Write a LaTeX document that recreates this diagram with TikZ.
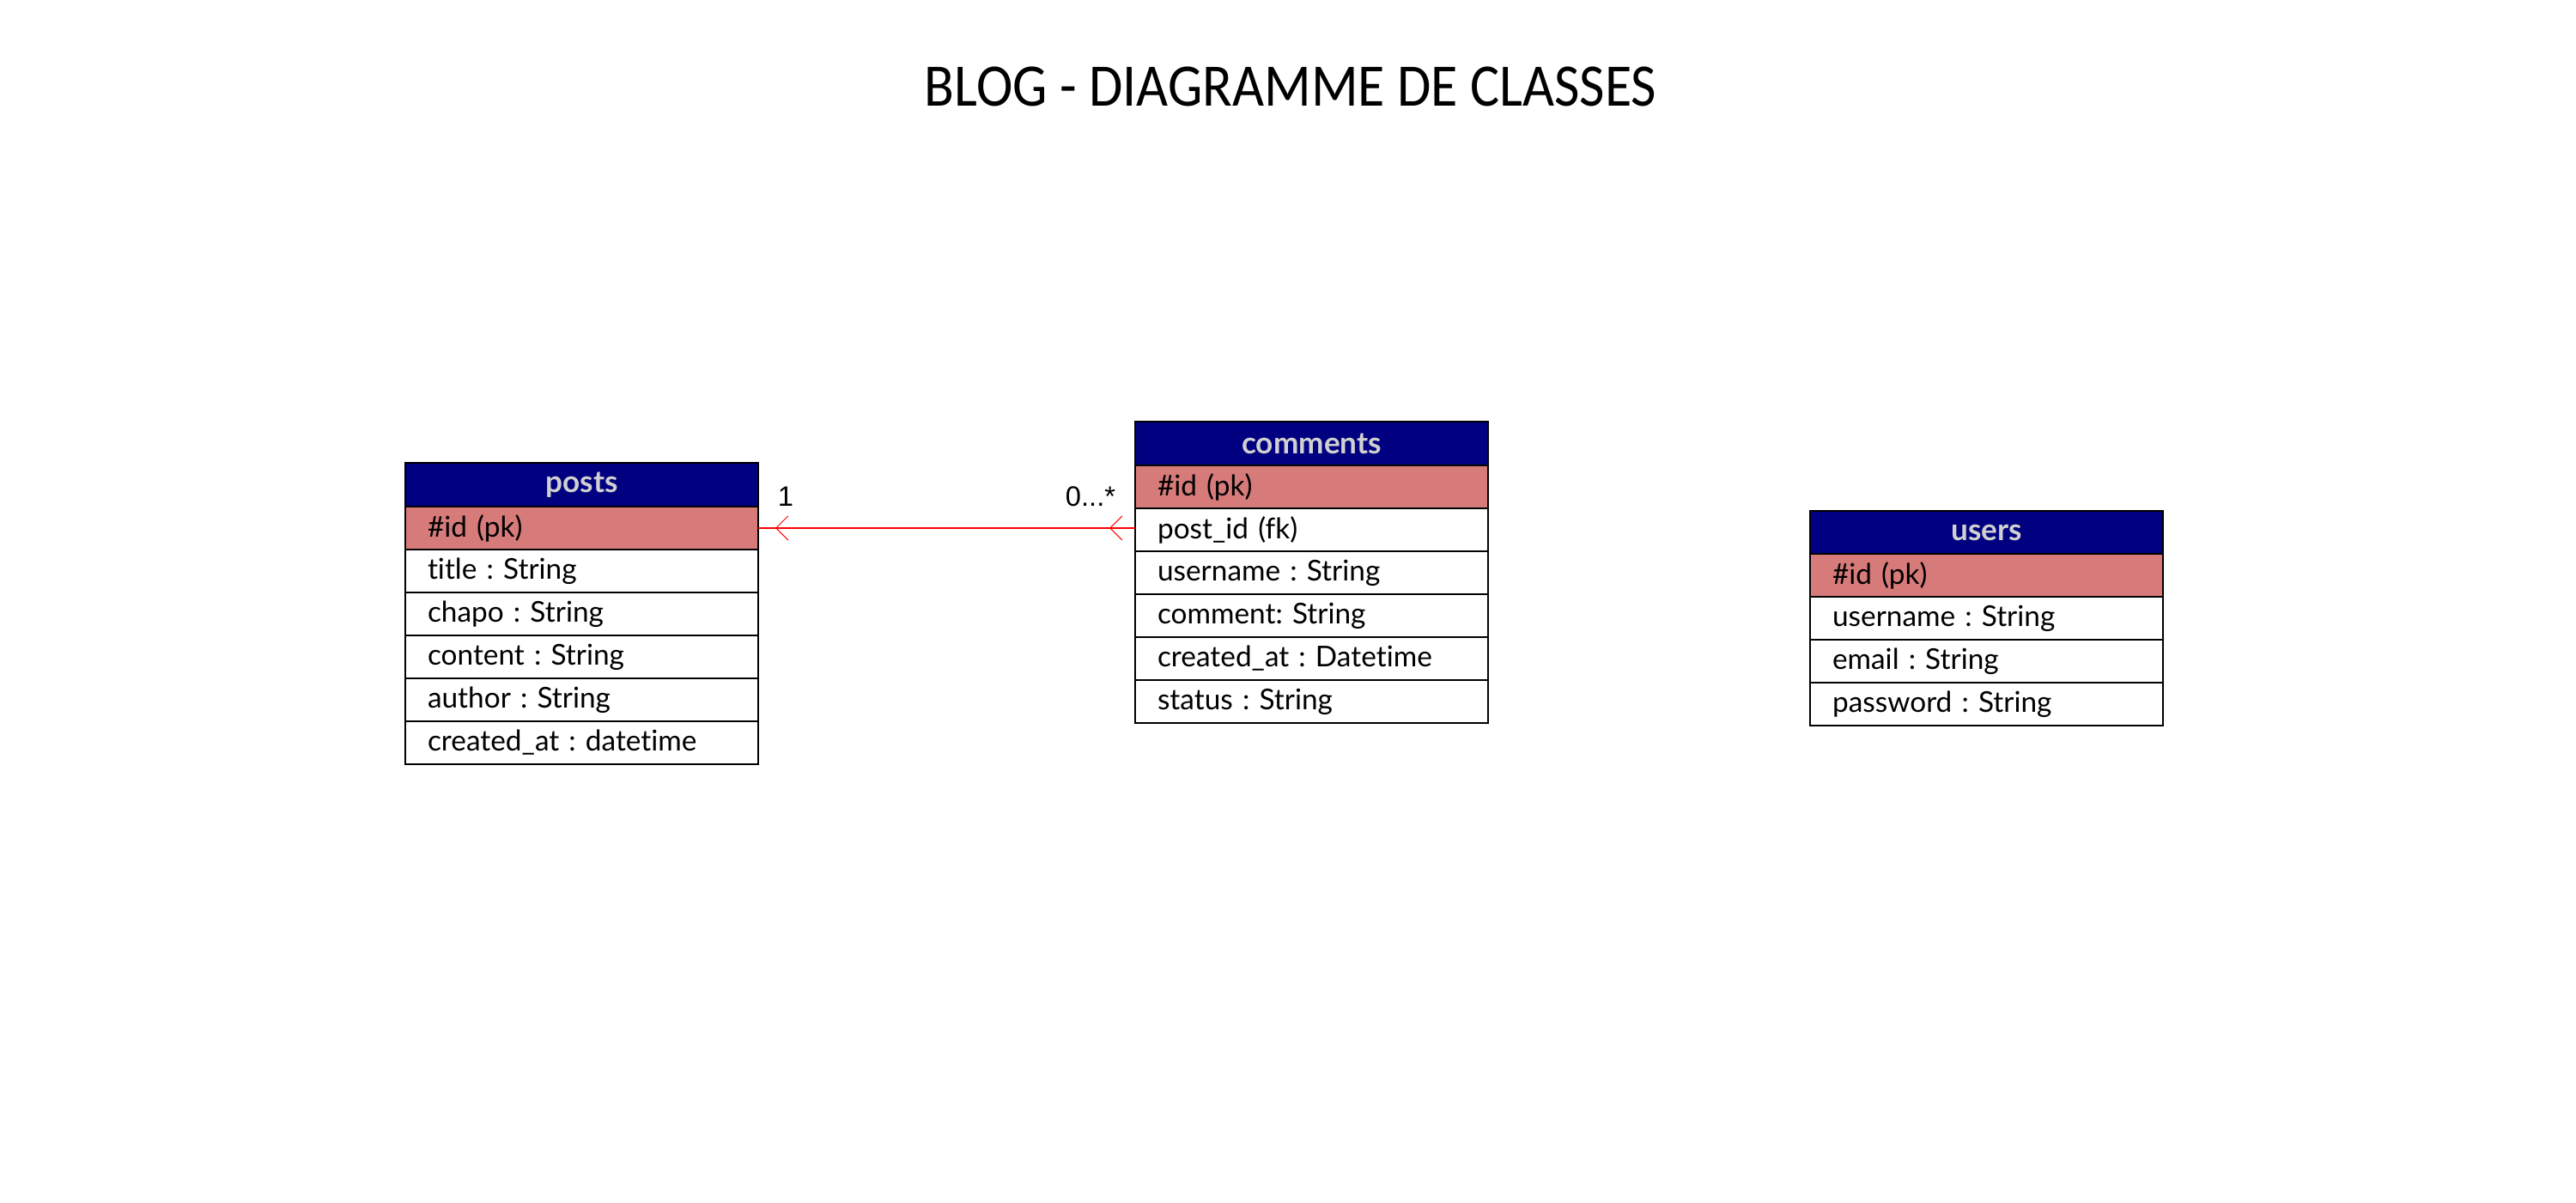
\documentclass[tikz,border=0pt]{standalone}
\usepackage{fontspec}
\setmainfont[Ligatures={NoCommon}]{Lato}
\newfontfamily\titlefont[FakeStretch=0.91]{Carlito}
\newfontfamily\multfont{Liberation Sans}
\usetikzlibrary{arrows.meta,decorations.markings}

\definecolor{hdrblue}{RGB}{0,0,128}
\definecolor{pkred}{RGB}{215,122,122}
\definecolor{hdrtext}{RGB}{208,208,208}

\tikzset{
  cell/.style={draw=black, line width=0.4pt, anchor=north west,
    minimum height=0.5cm, inner xsep=0.26cm, inner ysep=0pt, outer sep=0pt,
    text width=3.59cm, align=left,
    font=\fontsize{9.5}{12}\selectfont\frenchspacing},
  pkcell/.style={cell, fill=pkred},
  hdrcell/.style={cell, fill=hdrblue, text=hdrtext, align=center,
    minimum height=0.51cm, font=\fontsize{10}{12}\selectfont\bfseries},
  link/.style={draw=red, line width=0.5pt,
    postaction={decorate, decoration={markings,
      mark=at position 0.2cm with {\arrowreversed[red, line width=0.3pt]{Straight Barb[length=1.4mm, width=2.8mm]}},
      mark=at position -0.3cm with {\arrowreversed[red, line width=0.3pt]{Straight Barb[length=1.4mm, width=2.8mm]}}}}},
  mult/.style={font=\multfont\fontsize{9.3}{11}\selectfont, inner sep=0pt}
}

\begin{document}
\begin{tikzpicture}
  \useasboundingbox (0,0) rectangle (30,14);
  \fill[white] (0,0) rectangle (30,14);

  % title
  \node[font=\titlefont\fontsize{20}{24}\selectfont] (title) at (15.03,12.99) {BLOG - DIAGRAMME DE CLASSES};

  % class: posts
  \node[hdrcell] (p-head) at (4.72,8.61) {posts};
  \node[pkcell] (p-id) at (p-head.south west) {\#id (pk)};
  \node[cell] (p-title) at (p-id.south west) {title : String};
  \node[cell] (p-chapo) at (p-title.south west) {chapo : String};
  \node[cell] (p-content) at (p-chapo.south west) {content : String};
  \node[cell] (p-author) at (p-content.south west) {author : String};
  \node[cell] (p-created) at (p-author.south west) {created\_at : datetime};

  % class: comments
  \node[hdrcell] (c-head) at (13.22,9.09) {comments};
  \node[pkcell] (c-id) at (c-head.south west) {\#id (pk)};
  \node[cell] (c-post) at (c-id.south west) {post\_id (fk)};
  \node[cell] (c-user) at (c-post.south west) {username : String};
  \node[cell] (c-comment) at (c-user.south west) {comment: String};
  \node[cell] (c-created) at (c-comment.south west) {created\_at : Datetime};
  \node[cell] (c-status) at (c-created.south west) {status : String};

  % class: users
  \node[hdrcell, minimum height=0.5cm] (u-head) at (21.08,8.05) {users};
  \node[pkcell] (u-id) at (u-head.south west) {\#id (pk)};
  \node[cell] (u-name) at (u-id.south west) {username : String};
  \node[cell] (u-email) at (u-name.south west) {email : String};
  \node[cell] (u-pass) at (u-email.south west) {password : String};

  % association posts 1 -- 0..* comments
  \draw[link] (p-id.east) -- (p-id.east -| c-post.west);
  \node[mult] (m-one) at ([shift={(0.32,0.37)}]p-id.east) {1};
  \node[mult] (m-many) at ([shift={(-0.52,0.37)}]p-id.east -| c-post.west) {0...*};
\end{tikzpicture}
\end{document}
